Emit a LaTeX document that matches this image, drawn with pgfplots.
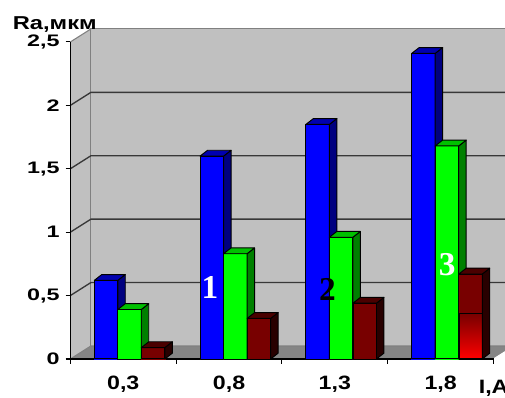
\documentclass[border=0pt]{standalone}
\usepackage{pgfplots}
\pgfplotsset{compat=1.18}
\usepackage{pgfplotstable}
\usepackage{graphicx}
\usepackage{fontspec}
\setmainfont{Liberation Sans}
\newfontfamily\serifnum{Liberation Serif}

\definecolor{wallgray}{HTML}{C0C0C0}
\definecolor{floorgray}{HTML}{858585}
\definecolor{edgegray}{HTML}{808080}
\definecolor{gridc}{HTML}{383838}
\definecolor{bfront}{HTML}{0000FF}
\definecolor{bside}{HTML}{000080}
\definecolor{btop}{HTML}{0000B0}
\definecolor{gfront}{HTML}{00FF00}
\definecolor{gside}{HTML}{008000}
\definecolor{gtop}{HTML}{00C000}
\definecolor{rfront}{HTML}{780000}
\definecolor{rside}{HTML}{280000}
\definecolor{rtop}{HTML}{4A0000}

\pgfplotstableread{
x blue green red
0 0.62 0.39 0.09
1 1.60 0.83 0.32
2 1.85 0.96 0.44
3 2.41 1.68 0.67
}\ratable

\pgfdeclareplotmark{nothing}{}
% 3D column drawn at each data point (top front edge at the value)
% #1 right edge of front face (pt), #2 front, #3 side, #4 top colour, #5 gradient flag
\newcommand\barthreed[5]{%
  \pgfmathsetmacro\hh{\val*95.1}%
  \pgfmathtruncatemacro\islast{\xv>2.5 ? 1 : 0}%
  \begin{scope}[yshift=1.5pt]
  \fill[#2] (#1pt,0pt) rectangle ++(-17.625pt,{-\hh pt});
  \ifnum#5=1 \ifnum\islast=1
    \shade[top color=#2, middle color=#2, bottom color=red]
      ({#1pt-17.625pt},{-\hh pt}) rectangle ({#1pt},{-\hh pt+34pt});
  \fi\fi
  \draw[black, line width=0.7pt, line join=round]
     (#1pt,0pt) rectangle ++(-17.625pt,{-\hh pt});
  \fill[#3, draw=black, line width=0.7pt, line join=round]
     (#1pt,0pt) -- ++(5.6pt,4.35pt) -- ++(0pt,{-\hh pt}) -- ++(-5.6pt,-4.35pt) -- cycle;
  \fill[#4, draw=black, line width=0.7pt, line join=round]
     (#1pt,0pt) -- ++(-17.625pt,0pt) -- ++(5.6pt,4.35pt) -- ++(17.625pt,0pt) -- cycle;
  \end{scope}
}
\pgfplotsset{
  bar3d/.style n args={5}{
    only marks, mark=nothing, scatter,
    visualization depends on={rawy \as \val},
    visualization depends on={rawx \as \xv},
    scatter/@pre marker code/.code={\barthreed{#1}{#2}{#3}{#4}{#5}},
    scatter/@post marker code/.code={},
  },
}
\newcommand\sx[1]{\scalebox{1.2}[1]{#1}}
\newcommand\sy[1]{\scalebox{1.4}[1]{#1}}

\begin{document}
\begin{tikzpicture}[x=0.75pt,y=0.75pt]
\useasboundingbox (0,0) rectangle (505,397);
\clip (0,0) rectangle (505,397);
\begin{axis}[
  at={(66.5,30)}, anchor=south west,
  x=79.35pt, y=95.1pt,
  xmin=-0.5, xmax=3.5, ymin=0, ymax=2.5,
  clip=false,
  axis on top,
  axis lines*=left,
  axis line style={-, black, line width=0.8pt},
  xtick={-0.5,0.5,1.5,2.5,3.5},
  x tick label as interval,
  xticklabels={{\sx{0,3}},{\sx{0,8}},{\sx{1,3}},{\sx{1,8}}},
  ytick={0,0.5,1,1.5,2,2.5},
  yticklabels={{\sy{0}},{\sy{0,5}},{\sy{1}},{\sy{1,5}},{\sy{2}},{\sy{2,5}}},
  tick align=outside, major tick length=3.5pt,
  tick style={black, line width=0.8pt},
  xticklabel style={font=\fontsize{14.5}{16}\selectfont\bfseries, yshift=-5.5pt},
  yticklabel style={font=\fontsize{12.5}{14}\selectfont\bfseries, xshift=-1pt},
]
% walls and floor
\fill[floorgray] (axis cs:-0.5,0) -- (axis cs:3.5,0) -- (axis cs:3.694,0.1025) -- (axis cs:-0.306,0.1025) -- cycle;
\fill[wallgray] (axis cs:-0.5,0) -- (axis cs:-0.306,0.1025) -- (axis cs:-0.306,2.6025) -- (axis cs:-0.5,2.5) -- cycle;
\fill[wallgray] (axis cs:-0.306,0.1025) rectangle (axis cs:3.694,2.6025);
\draw[edgegray, line width=0.8pt] (axis cs:-0.306,0.1025) -- (axis cs:-0.306,2.6025) -- (axis cs:3.694,2.6025);
\draw[edgegray, line width=0.8pt] (axis cs:-0.5,2.5) -- (axis cs:-0.306,2.6025);
\draw[edgegray, line width=0.8pt] (axis cs:-0.5,0) -- (axis cs:-0.306,0.1025) -- (axis cs:3.694,0.1025);
\draw[white, line width=0.8pt] (axis cs:3.5,0) -- (axis cs:3.694,0.1025);
\draw[gridc, line width=1pt] (axis cs:-0.5,0.5) -- (axis cs:-0.306,0.6025) -- (axis cs:3.694,0.6025);
\draw[gridc, line width=1pt] (axis cs:-0.5,1) -- (axis cs:-0.306,1.1025) -- (axis cs:3.694,1.1025);
\draw[gridc, line width=1pt] (axis cs:-0.5,1.5) -- (axis cs:-0.306,1.6025) -- (axis cs:3.694,1.6025);
\draw[gridc, line width=1pt] (axis cs:-0.5,2) -- (axis cs:-0.306,2.1025) -- (axis cs:3.694,2.1025);

% 3D columns, drawn series by series
\addplot[bar3d={-4.09}{bfront}{bside}{btop}{0}] table[x=x,y=blue] {\ratable};
\addplot[bar3d={13.51}{gfront}{gside}{gtop}{0}] table[x=x,y=green] {\ratable};
\addplot[bar3d={31.21}{rfront}{rside}{rtop}{1}] table[x=x,y=red] {\ratable};

\coordinate (L1) at (axis cs:0.8185,0.56);
\coordinate (L2) at (axis cs:1.931,0.552);
\coordinate (L3) at (axis cs:3.061,0.741);
\coordinate (LY) at (axis cs:-1.046,2.6);
\coordinate (LX) at (axis cs:3.358,-0.276);
\end{axis}
\node[anchor=center, white, font=\serifnum\fontsize{25}{28}\selectfont\bfseries] at (L1) {1};
\node[anchor=center, black, font=\serifnum\fontsize{25}{28}\selectfont\bfseries] at (L2) {2};
\node[anchor=center, white, font=\serifnum\fontsize{25}{28}\selectfont\bfseries] at (L3) {3};
\node[anchor=base west, inner sep=0pt, font=\fontsize{14}{16}\selectfont\bfseries] at (LY) {\scalebox{1.27}[1]{Ra,мкм}};
\node[anchor=base west, inner sep=0pt, font=\fontsize{14.5}{16}\selectfont\bfseries] at (LX) {\sx{I,A}};
\end{tikzpicture}
\end{document}
